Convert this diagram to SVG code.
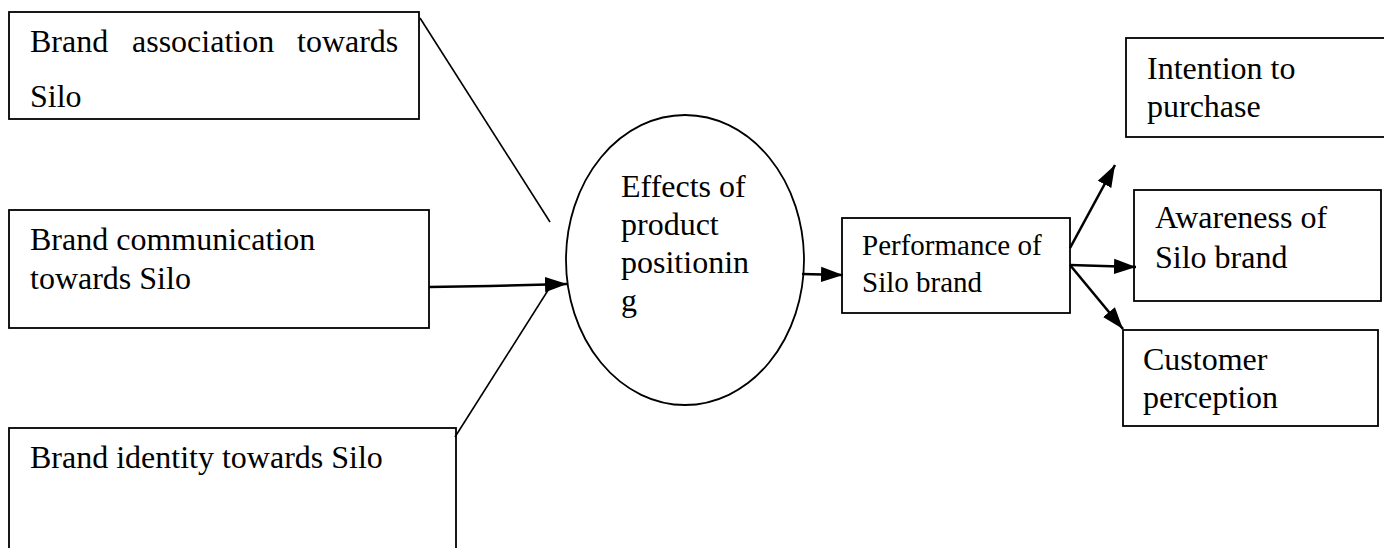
<svg xmlns="http://www.w3.org/2000/svg" width="1384" height="548" viewBox="0 0 1384 548">
<style>
.box{fill:#fff;stroke:#000;stroke-width:1.8}
.t{font-family:"Liberation Serif","Times New Roman",serif;font-size:32px;fill:#000}
.ts{font-family:"Liberation Serif","Times New Roman",serif;font-size:29px;fill:#000}
.ln{stroke:#000;stroke-width:1.6;fill:none}
.ar{stroke:#000;stroke-width:2.6;fill:none;marker-end:url(#ah)}
</style>
<defs>
<marker id="ah" markerUnits="userSpaceOnUse" markerWidth="22" markerHeight="16" viewBox="0 0 20 14" refX="20" refY="7" orient="auto">
<path d="M0,0 L20,7 L0,14 Z" fill="#000"/>
</marker>
</defs>
<rect width="1384" height="548" fill="#fff"/>
<g id="n_association">
<rect class="box" x="9" y="12" width="410" height="107"/>
<text class="t" x="30" y="52">Brand</text>
<text class="t" x="132" y="52">association</text>
<text class="t" x="297" y="52">towards</text>
<text class="t" x="30" y="107">Silo</text>
</g>
<g id="n_communication">
<rect class="box" x="9" y="210" width="420" height="118"/>
<text class="t" x="30" y="250">Brand communication</text>
<text class="t" x="30" y="289">towards Silo</text>
</g>
<g id="n_identity">
<rect class="box" x="9" y="428" width="447" height="140"/>
<text class="t" x="30" y="468">Brand identity towards Silo</text>
</g>
<g id="n_effects">
<ellipse class="box" cx="685" cy="260" rx="119" ry="145"/>
<text class="t" x="621" y="197">Effects of</text>
<text class="t" x="621" y="235">product</text>
<text class="t" x="621" y="273">positionin</text>
<text class="t" x="621" y="311">g</text>
</g>
<g id="n_performance">
<rect class="box" x="842" y="218" width="228" height="95"/>
<text class="ts" x="862" y="255">Performance of</text>
<text class="ts" x="862" y="292">Silo brand</text>
</g>
<g id="n_intention">
<rect class="box" x="1126" y="38" width="262" height="99"/>
<text class="t" x="1147" y="79">Intention to</text>
<text class="t" x="1147" y="117">purchase</text>
</g>
<g id="n_awareness">
<rect class="box" x="1134" y="190" width="247" height="111"/>
<text class="t" x="1155" y="228">Awareness of</text>
<text class="t" x="1155" y="268">Silo brand</text>
</g>
<g id="n_customer">
<rect class="box" x="1123" y="330" width="255" height="96"/>
<text class="t" x="1143" y="370">Customer</text>
<text class="t" x="1143" y="408">perception</text>
</g>
<g id="connectors">
<line class="ln" x1="420" y1="18" x2="550" y2="222"/>
<line class="ln" x1="455" y1="437" x2="552" y2="284"/>
<path class="ar" d="M429,287 L490,286 L567,284"/>
<line class="ar" x1="802" y1="274" x2="843" y2="275"/>
<line class="ar" x1="1070" y1="248" x2="1115" y2="165"/>
<line class="ar" x1="1070" y1="265" x2="1136" y2="267"/>
<line class="ar" x1="1070" y1="265" x2="1123" y2="329"/>
</g>
</svg>
